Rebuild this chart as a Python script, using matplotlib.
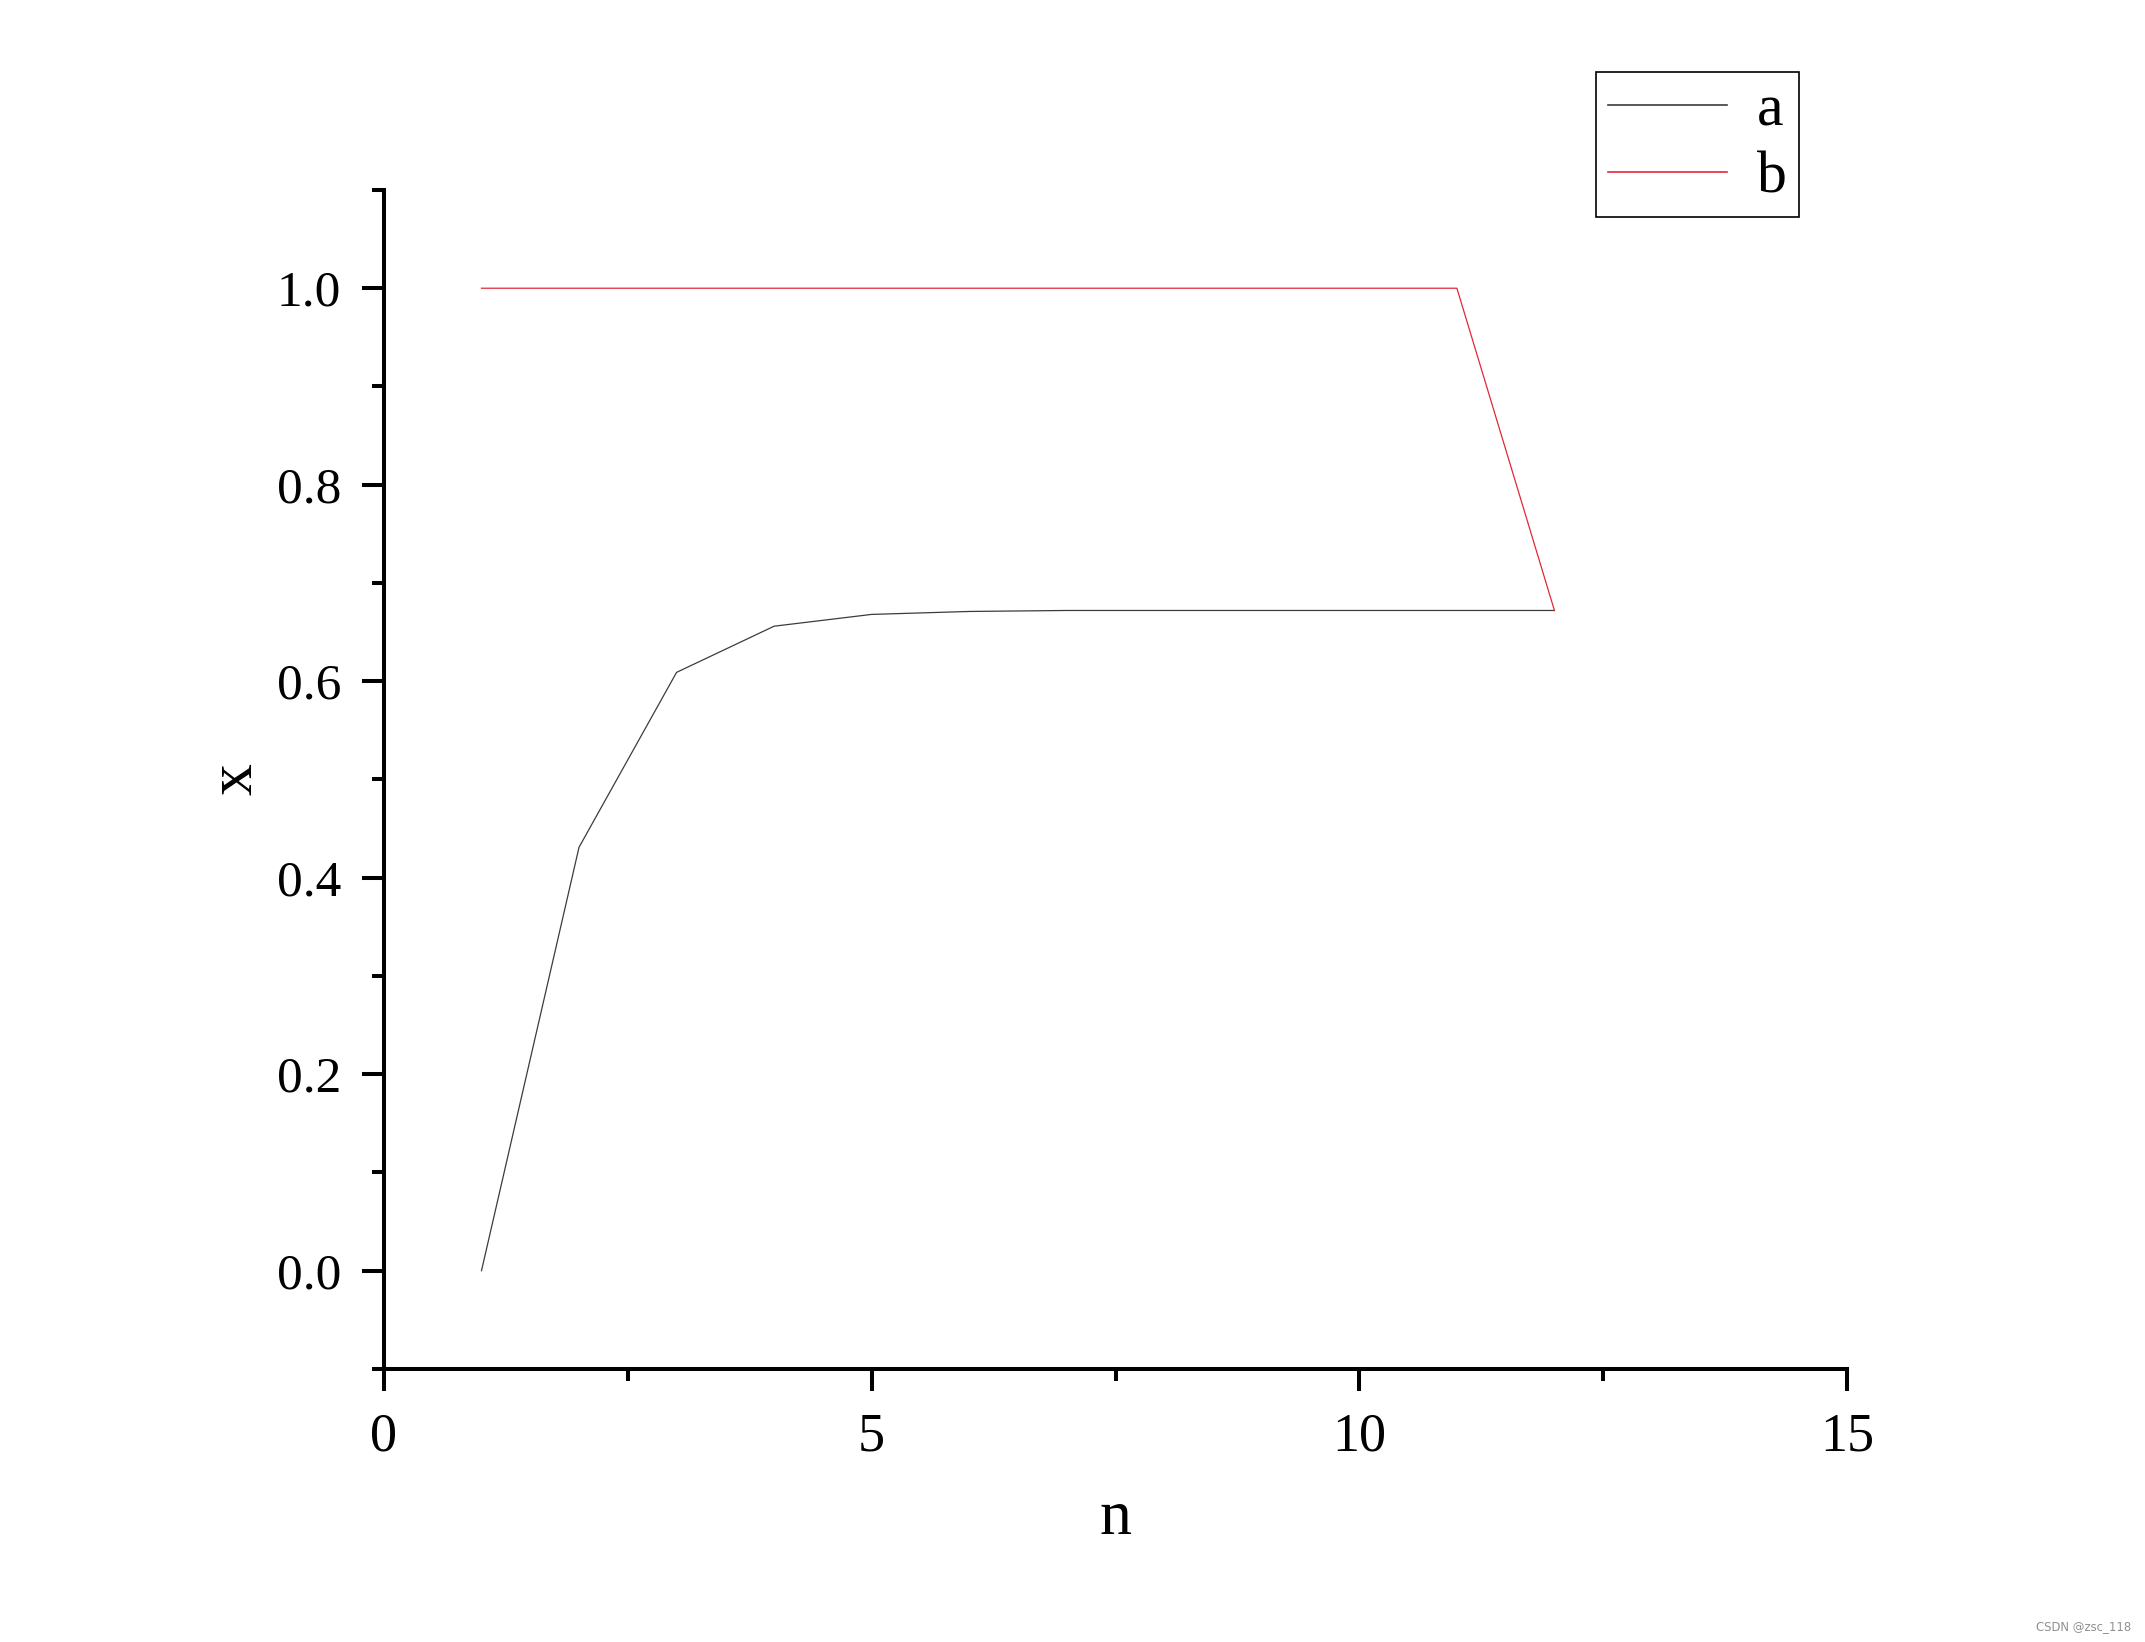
import matplotlib
matplotlib.use('agg')
import matplotlib.pyplot as plt
from matplotlib.ticker import MultipleLocator

# data
n = [1, 2, 3, 4, 5, 6, 7, 8, 9, 10, 11, 12]
a = [0.0, 0.431, 0.609, 0.656, 0.668, 0.671, 0.672, 0.672, 0.672, 0.672, 0.672, 0.672]
b = [1.0, 1.0, 1.0, 1.0, 1.0, 1.0, 1.0, 1.0, 1.0, 1.0, 1.0, 0.672]
labels = ['a', 'b']

plt.rcParams['font.family'] = ['Liberation Serif', 'DejaVu Serif']

fig = plt.figure(figsize=(10.725, 8.21), dpi=200)
ax = fig.add_axes([0.1790, 0.1663, 0.6821, 0.7180])

ax.plot(n, a, color='#3c3c3c', lw=0.45, label=labels[0])
ax.plot(n, b, color='#e02838', lw=0.45, label=labels[1])

ax.set_xlim(0, 15)
ax.set_ylim(-0.1, 1.1)
ax.xaxis.set_major_locator(MultipleLocator(5))
ax.xaxis.set_minor_locator(MultipleLocator(2.5))
ax.yaxis.set_major_locator(MultipleLocator(0.2))
ax.yaxis.set_minor_locator(MultipleLocator(0.1))
ax.yaxis.set_major_formatter(plt.FuncFormatter(lambda v, p: '%.1f' % v))

for s in ['top', 'right']:
    ax.spines[s].set_visible(False)
for s in ['left', 'bottom']:
    ax.spines[s].set_linewidth(1.45)

ax.tick_params(which='major', direction='out', length=7.9, width=1.45,
               labelsize=18.5, pad=7.5)
ax.tick_params(which='minor', direction='out', length=4.3, width=1.45)
ax.tick_params(axis='x', which='major', labelsize=19.5, pad=7.5)

ax.set_xlabel('n', fontsize=23, labelpad=10)
ax.set_ylabel('x', fontsize=23, labelpad=4.2)

leg = fig.legend(loc='upper right', bbox_to_anchor=(1799 / 2145, 1 - 72 / 1642),
                 fontsize=21.5, fancybox=False, edgecolor='black',
                 handlelength=2.0, handletextpad=0.5, labelspacing=0.2,
                 borderaxespad=0, borderpad=0.2, framealpha=1)
leg.get_frame().set_linewidth(0.6)
for line in leg.get_lines():
    line.set_linewidth(0.6)

fig.text(0.9935, 0.0097, 'CSDN @zsc_118', ha='right', va='center',
         fontsize=4.2, color='#909090', family='DejaVu Sans')

fig.savefig('out.png', dpi=200)
